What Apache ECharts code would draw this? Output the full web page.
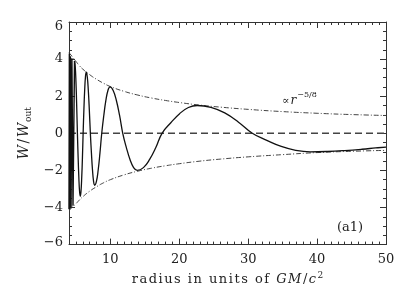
<!DOCTYPE html>
<html><head><meta charset="utf-8">
<script src="https://cdn.jsdelivr.net/npm/echarts@6/dist/echarts.min.js"></script>
<style>html,body{margin:0;padding:0;background:#fff}#c{width:408px;height:291px}</style>
</head><body><div id="c"></div>
<script>
// ---- data ----
const xMajorTicks = [10, 20, 30, 40, 50];
const yTickLabels = [-6, -4, -2, 0, 2, 4, 6];

// tightly wound oscillations near the inner edge
const denseR = [4.0, 4.05, 4.12, 4.2, 4.3, 4.42, 4.58, 4.8];
const denseW = [-4.1, 4.3, -4.1, 4.15, -4.0, 4.05, -3.9, 3.9];

// main oscillating solution W/W_out
const waveR = [4.8, 4.905, 5.01, 5.115, 5.22, 5.325, 5.43, 5.535, 5.64, 5.74, 5.845, 5.95, 6.05, 6.16, 6.275, 6.39, 6.5, 6.65, 6.8, 6.95, 7.1, 7.255, 7.41, 7.565, 7.72, 7.98, 8.235, 8.49, 8.75, 9.05, 9.35, 9.65, 9.95, 10.41, 10.875, 11.34, 11.8, 12.325, 12.85, 13.375, 13.9, 14.8, 15.7, 16.6, 17.5, 18.775, 20.05, 21.325, 22.6, 24.6, 26.6, 28.6, 30.6, 32.7, 34.8, 36.9, 39, 41.5, 44, 46.5, 48.5, 50];
const waveW = [3.9, 3.6, 2.76, 1.49, 0, -1.3, -2.4, -3.14, -3.4, -3.14, -2.4, -1.3, 0, 1.26, 2.33, 3.05, 3.3, 3.05, 2.33, 1.26, 0, -1.07, -1.98, -2.59, -2.8, -2.59, -1.98, -1.07, 0, 0.96, 1.77, 2.31, 2.5, 2.31, 1.77, 0.96, 0, -0.77, -1.41, -1.85, -2.0, -1.85, -1.41, -0.77, 0, 0.57, 1.06, 1.39, 1.5, 1.4, 1.1, 0.6, 0, -0.38, -0.71, -0.92, -1.0, -0.98, -0.93, -0.86, -0.79, -0.74];

// envelope  ∝ r^(-5/8)
const envR = [4, 4.5, 5, 5.5, 6, 7, 8, 9, 10, 12, 14, 16, 18, 20, 23, 26, 30, 35, 40, 45, 50];
const envUpper = [4.35, 4.12, 3.88, 3.65, 3.46, 3.16, 2.91, 2.7, 2.52, 2.26, 2.06, 1.9, 1.77, 1.66, 1.52, 1.41, 1.29, 1.17, 1.08, 1.01, 0.96];
const envLower = [-4.15, -3.98, -3.8, -3.6, -3.42, -3.12, -2.88, -2.67, -2.5, -2.24, -2.04, -1.88, -1.75, -1.64, -1.5, -1.39, -1.27, -1.15, -1.04, -0.97, -0.92];

// zero reference line
const zeroR = [4, 50];
const zeroW = [0, 0];

const xTitlePlain = 'radius in units of ';
const envLabel = '−5/8';
const panelLabel = '(a1)';

const zip = (a, b) => a.map((v, i) => [v, b[i]]);
const spaced = (s, style) => s.split('').map(c => `{${style}|${c}}`).join('');

const FONT = 'DejaVu Serif';
const axisColor = '#333';
const textColor = '#222';

const chart = echarts.init(document.getElementById('c'), null, {renderer: 'canvas'});

const minorX = (pos) => ({
  type: 'value', position: pos, min: 4, max: 50, interval: 1,
  axisLine: {show: true, onZero: false, lineStyle: {color: axisColor, width: 1}},
  axisTick: {show: true, inside: true, length: 3, lineStyle: {color: axisColor}},
  axisLabel: {show: false}, splitLine: {show: false}
});
const majorX = (pos, labels) => ({
  type: 'value', position: pos, min: 4, max: 50,
  axisLine: {show: false, onZero: false},
  axisTick: {show: true, inside: true, length: 6, customValues: xMajorTicks, lineStyle: {color: axisColor}},
  axisLabel: labels ? {show: true, customValues: xMajorTicks, margin: 9, color: textColor, fontFamily: FONT, fontSize: 13} : {show: false},
  splitLine: {show: false}
});

const yAx = (pos, labels) => ({
  type: 'value', position: pos, min: -6, max: 6, interval: 2,
  axisLine: {show: true, onZero: false, lineStyle: {color: axisColor, width: 1}},
  axisTick: {show: true, inside: true, length: 6, lineStyle: {color: axisColor}},
  minorTick: {show: true, splitNumber: 4, length: 3, lineStyle: {color: axisColor}},
  axisLabel: labels ? {
    show: true, margin: 6, color: textColor, fontFamily: FONT, fontSize: 13,
    customValues: yTickLabels,
    formatter: (v) => v === 6 ? '{t|6}' : (v === -6 ? '{b|−6}' : String(v).replace('-', '−')),
    rich: {t: {padding: [9, 0, 0, 0], fontFamily: FONT, fontSize: 13, color: textColor},
           b: {padding: [0, 0, 4, 0], fontFamily: FONT, fontSize: 13, color: textColor}}
  } : {show: false},
  splitLine: {show: false}
});

const xAxes = [minorX('bottom'), majorX('bottom', true), minorX('top'), majorX('top', false)];
xAxes[1].name = spaced(xTitlePlain, 'a') + '{i|G}{i|M}{a|/}{i|c}{s|2}';
xAxes[1].nameLocation = 'middle';
xAxes[1].nameGap = 23;
xAxes[1].nameTextStyle = {
  rich: {
    a: {fontFamily: FONT, fontSize: 13, color: textColor, lineHeight: 16, padding: [0, 1.5, 0, 0]},
    i: {fontFamily: FONT, fontSize: 13, fontStyle: 'italic', color: textColor, lineHeight: 16, padding: [0, 1.5, 0, 0]},
    s: {fontFamily: FONT, fontSize: 9, color: textColor, verticalAlign: 'top', lineHeight: 10}
  }
};

const yAxes = [yAx('left', true), yAx('right', false)];
yAxes[0].name = '{i|W}{a|/}{i|W}{s|out}';
yAxes[0].nameLocation = 'middle';
yAxes[0].nameRotate = 90;
yAxes[0].nameGap = 29;
yAxes[0].nameTextStyle = {
  rich: {
    a: {fontFamily: FONT, fontSize: 14, color: textColor, lineHeight: 18, padding: [0, 1.5, 0, 1.5]},
    i: {fontFamily: FONT, fontSize: 14, fontStyle: 'italic', color: textColor, lineHeight: 18},
    s: {fontFamily: FONT, fontSize: 9, color: textColor, verticalAlign: 'bottom', lineHeight: 10, padding: [0, 0, 0, 1]}
  }
};

const lineBase = {type: 'line', xAxisIndex: 0, yAxisIndex: 0, showSymbol: false, symbol: 'none', silent: true, animation: false};

chart.setOption({
  animation: false,
  backgroundColor: '#fff',
  grid: {left: 69, right: 22, top: 22, bottom: 44, containLabel: false},
  xAxis: xAxes,
  yAxis: yAxes,
  series: [
    Object.assign({}, lineBase, {name: 'zero', data: zip(zeroR, zeroW), lineStyle: {color: '#444', width: 1.5, type: [7, 4]}}),
    Object.assign({}, lineBase, {name: 'upper', data: zip(envR, envUpper), smooth: true, lineStyle: {color: '#444', width: 1, type: [5, 2, 1, 2]}}),
    Object.assign({}, lineBase, {name: 'lower', data: zip(envR, envLower), smooth: true, lineStyle: {color: '#444', width: 1, type: [5, 2, 1, 2]}}),
    Object.assign({}, lineBase, {name: 'dense', data: zip(denseR, denseW), lineStyle: {color: '#111', width: 1.4}}),
    Object.assign({}, lineBase, {name: 'wave', data: zip(waveR, waveW), smooth: 0.45, lineStyle: {color: '#111', width: 1.3}})
  ],
  graphic: [
    {type: 'text', left: 282, top: 91, silent: true, style: {
      text: '{a|∝}{i|r}{s|' + envLabel + '}',
      rich: {
        a: {fontFamily: FONT, fontSize: 11, fill: textColor, lineHeight: 16, verticalAlign: 'bottom', padding: [0, 1, 0, 0]},
        i: {fontFamily: FONT, fontSize: 12, fontStyle: 'italic', fill: textColor, lineHeight: 16, verticalAlign: 'bottom'},
        s: {fontFamily: FONT, fontSize: 8, fill: textColor, lineHeight: 10, verticalAlign: 'top', padding: [0, 0, 0, 1]}
      }
    }},
    {type: 'text', left: 337, top: 221, silent: true, style: {
      text: panelLabel, fontFamily: FONT, fontSize: 13, fill: textColor
    }}
  ]
});
</script>
</body></html>
